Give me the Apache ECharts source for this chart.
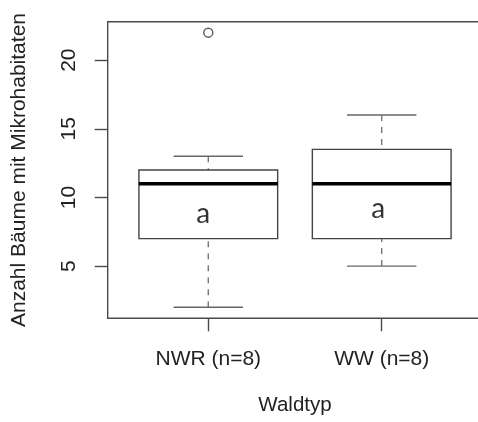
<!DOCTYPE html>
<html>
<head>
<meta charset="utf-8">
<script src="https://cdn.jsdelivr.net/npm/echarts@6/dist/echarts.min.js"></script>
<style>
  html, body { margin: 0; padding: 0; background: #ffffff; }
  #chart { width: 478px; height: 422px; }
</style>
</head>
<body>
<div id="chart"></div>
<script>
// Group labels along the x axis
const categories = ['NWR (n=8)', 'WW (n=8)'];
// Five-number summaries per group (whisker ends, quartiles, median)
const whiskerLow = [2, 5];
const quartile1 = [7, 7];
const medians = [11, 11];
const quartile3 = [12, 13.5];
const whiskerHigh = [13, 16];
// Outlying observations: group index and value
const outlierGroup = [0];
const outlierValue = [22];
// Significance letters: group index, y value of the letter, text
const letterGroup = [0, 1];
const letterY = [8.8, 9.15];
const letterX = [-0.03, -0.02];
const letterText = ['a', 'a'];
// Y tick values
const yTicks = [5, 10, 15, 20];

const fontFamily = '"Liberation Sans", Arial, sans-serif';
const lineColor = '#444';

const boxData = categories.map((c, i) => [
  i + 1, whiskerLow[i], quartile1[i], medians[i], quartile3[i], whiskerHigh[i]
]);
const outlierData = outlierGroup.map((g, i) => [g + 1, outlierValue[i]]);
const letterData = letterGroup.map((g, i) => ({
  value: [g + 1 + letterX[i], letterY[i]],
  label: { formatter: letterText[i] }
}));

const chart = echarts.init(document.getElementById('chart'), null, { renderer: 'canvas' });

chart.setOption({
  animation: false,
  backgroundColor: '#ffffff',
  grid: {
    left: 107.7, right: -4.3, top: 21.7, bottom: 103.7,
    show: true, borderColor: '#4a4a4a', borderWidth: 1.4,
    backgroundColor: 'transparent',
    containLabel: false, outerBoundsMode: 'none'
  },
  xAxis: {
    type: 'value', min: 0.42, max: 2.58,
    axisLine: { show: false },
    splitLine: { show: false },
    axisTick: { show: true, length: 13, customValues: [1, 2],
      lineStyle: { color: '#4a4a4a', width: 1.4 } },
    axisLabel: { show: true, customValues: [1, 2], margin: 30,
      fontFamily, fontSize: 21, color: '#222',
      formatter: v => categories[Math.round(v) - 1] || '' },
    name: 'Waldtyp', nameLocation: 'middle', nameGap: 77,
    nameTextStyle: { fontFamily, fontSize: 20.5, color: '#222' }
  },
  yAxis: {
    type: 'value', min: 1.2, max: 22.8,
    axisLine: { show: false },
    splitLine: { show: false },
    axisTick: { show: true, length: 13, customValues: yTicks,
      lineStyle: { color: '#4a4a4a', width: 1.4 } },
    axisLabel: { show: true, customValues: yTicks, rotate: 90, margin: 28,
      fontFamily, fontSize: 21, color: '#222' },
    name: 'Anzahl Bäume mit Mikrohabitaten', nameLocation: 'middle', nameGap: 78,
    nameRotate: 90,
    nameTextStyle: { fontFamily, fontSize: 21, color: '#222' }
  },
  series: [
    {
      type: 'custom',
      data: boxData,
      encode: { x: 0, y: [1, 2, 3, 4, 5] },
      renderItem(params, api) {
        const x = api.value(0);
        const lo = api.value(1), q1 = api.value(2), med = api.value(3),
              q3 = api.value(4), hi = api.value(5);
        const half = 0.4, capHalf = 0.2;
        const tl = api.coord([x - half, q3]);
        const br = api.coord([x + half, q1]);
        const c = (xx, yy) => api.coord([xx, yy]);
        const line = (p1, p2, style) => ({
          type: 'line',
          shape: { x1: p1[0], y1: p1[1], x2: p2[0], y2: p2[1] },
          style: Object.assign({ stroke: lineColor, lineWidth: 1.4 }, style)
        });
        return {
          type: 'group',
          children: [
            line(c(x, lo), c(x, q1), { stroke: '#777', lineDash: [6, 6] }),
            line(c(x, hi), c(x, q3), { stroke: '#777', lineDash: [6, 6] }),
            line(c(x - capHalf, lo), c(x + capHalf, lo), { stroke: '#666' }),
            line(c(x - capHalf, hi), c(x + capHalf, hi), { stroke: '#666' }),
            {
              type: 'rect',
              shape: { x: tl[0], y: tl[1], width: br[0] - tl[0], height: br[1] - tl[1] },
              style: { fill: 'none', stroke: lineColor, lineWidth: 1.4 }
            },
            line(c(x - half, med), c(x + half, med), { stroke: '#000', lineWidth: 3.6 })
          ]
        };
      }
    },
    {
      type: 'scatter',
      data: outlierData,
      symbol: 'circle',
      symbolSize: 9,
      itemStyle: { color: '#ffffff', borderColor: '#333', borderWidth: 1.4 }
    },
    {
      type: 'scatter',
      data: letterData,
      symbolSize: 0,
      silent: true,
      label: {
        show: true, position: 'inside',
        fontFamily: 'Lato, "Open Sans", sans-serif', fontSize: 28, color: '#000'
      }
    }
  ]
});
</script>
</body>
</html>
